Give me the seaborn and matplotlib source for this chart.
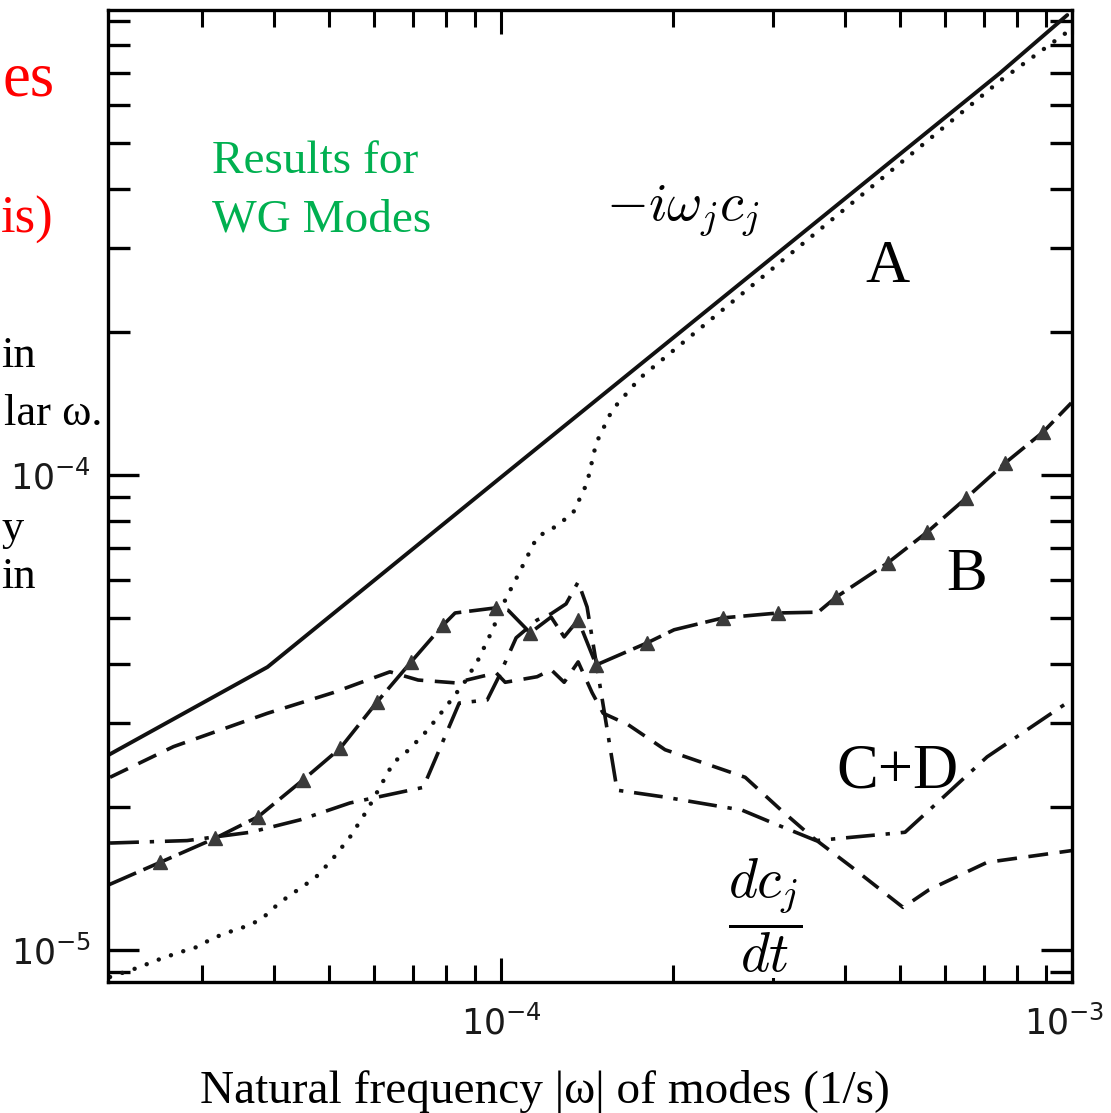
import numpy as np
import pandas as pd
import matplotlib
matplotlib.use("Agg")
import matplotlib.pyplot as plt
import seaborn as sns
from matplotlib.ticker import LogLocator, FuncFormatter, LogFormatterMathtext, NullFormatter

# ---------------- data ----------------
# A : -i w_j c_j  (solid)
A_x = [2.05e-5, 3.90e-5, 9.97e-5, 7.48e-4, 9.81e-4]
A_y = [2.57e-5, 3.94e-5, 9.85e-5, 7.00e-4, 9.27e-4]

# dotted curve
dot_x = [2.067e-5, 2.31e-5, 2.50e-5, 2.71e-5, 2.94e-5, 3.13e-5, 3.40e-5, 3.64e-5,
         3.83e-5, 4.10e-5, 4.45e-5, 4.73e-5, 5.06e-5, 5.44e-5, 5.83e-5, 6.48e-5,
         6.90e-5, 7.43e-5, 8.01e-5, 8.62e-5, 9.12e-5, 9.61e-5, 1.017e-4, 1.076e-4,
         1.157e-4, 1.244e-4, 1.337e-4, 1.415e-4, 1.468e-4, 1.566e-4, 1.752e-4,
         7.48e-4, 9.81e-4]
dot_y = [8.78e-6, 9.18e-6, 9.53e-6, 9.86e-6, 1.016e-5, 1.06e-5, 1.10e-5, 1.13e-5,
         1.17e-5, 1.26e-5, 1.35e-5, 1.42e-5, 1.55e-5, 1.73e-5, 1.97e-5, 2.48e-5,
         2.64e-5, 2.90e-5, 3.25e-5, 3.65e-5, 4.08e-5, 4.65e-5, 5.45e-5, 6.22e-5,
         7.40e-5, 7.77e-5, 8.31e-5, 9.61e-5, 1.166e-4, 1.369e-4, 1.598e-4,
         6.74e-4, 8.54e-4]

# dc_j/dt (dashed)
dcdt_x = [2.067e-5, 2.67e-5, 3.90e-5, 5.08e-5, 6.39e-5, 7.16e-5, 8.31e-5, 9.81e-5,
          1.017e-4, 1.157e-4, 1.224e-4, 1.290e-4, 1.365e-4, 1.444e-4, 1.510e-4,
          1.670e-4, 1.938e-4, 2.677e-4, 3.095e-4, 3.506e-4, 4.10e-4, 5.06e-4,
          5.62e-4, 7.10e-4, 1.0e-3]
dcdt_y = [2.31e-5, 2.68e-5, 3.15e-5, 3.48e-5, 3.85e-5, 3.70e-5, 3.65e-5, 3.83e-5,
          3.66e-5, 3.76e-5, 3.89e-5, 3.66e-5, 4.04e-5, 3.48e-5, 3.15e-5,
          2.98e-5, 2.64e-5, 2.31e-5, 1.97e-5, 1.73e-5, 1.50e-5, 1.23e-5,
          1.34e-5, 1.53e-5, 1.62e-5]

# C+D (dash-dot)
CD_x = [2.067e-5, 2.82e-5, 3.64e-5, 4.45e-5, 5.44e-5, 7.31e-5, 8.45e-5, 9.46e-5,
        9.89e-5, 1.063e-4, 1.157e-4, 1.224e-4, 1.30e-4, 1.365e-4, 1.415e-4,
        1.522e-4, 1.597e-4, 1.930e-4, 2.644e-4, 2.997e-4, 3.563e-4, 5.10e-4,
        5.88e-4, 7.10e-4, 9.97e-4]
CD_y = [1.68e-5, 1.70e-5, 1.77e-5, 1.88e-5, 2.04e-5, 2.20e-5, 3.31e-5, 3.36e-5,
        3.74e-5, 4.54e-5, 4.95e-5, 5.10e-5, 5.35e-5, 5.95e-5, 5.27e-5,
        3.09e-5, 2.17e-5, 2.10e-5, 1.97e-5, 1.85e-5, 1.70e-5, 1.77e-5,
        2.07e-5, 2.55e-5, 3.36e-5]

# B (long dash with triangles)
B_x = [2.05e-5, 2.53e-5, 3.16e-5, 3.76e-5, 4.50e-5, 5.23e-5, 6.07e-5, 6.96e-5,
       7.92e-5, 8.31e-5, 9.81e-5, 1.029e-4, 1.125e-4, 1.224e-4, 1.290e-4,
       1.365e-4, 1.468e-4, 1.803e-4, 2.010e-4, 2.449e-4, 3.058e-4, 3.592e-4,
       3.864e-4, 4.76e-4, 5.58e-4, 6.53e-4, 7.64e-4, 8.90e-4, 9.97e-4]
B_y = [1.37e-5, 1.53e-5, 1.72e-5, 1.91e-5, 2.28e-5, 2.66e-5, 3.33e-5, 4.04e-5,
       4.83e-5, 5.12e-5, 5.25e-5, 5.19e-5, 4.65e-5, 5.02e-5, 4.56e-5,
       4.95e-5, 3.98e-5, 4.43e-5, 4.72e-5, 5.00e-5, 5.12e-5, 5.14e-5,
       5.53e-5, 6.53e-5, 7.58e-5, 8.94e-5, 1.059e-4, 1.230e-4, 1.416e-4]
B_marks = [1, 2, 3, 4, 5, 6, 7, 8, 10, 12, 15, 16, 17, 19, 20, 22, 23, 24, 25, 26, 27]

# ---------------- figure ----------------
sns.set_theme(style="white")
plt.rcParams["font.family"] = ["DejaVu Sans"]
plt.rcParams["mathtext.fontset"] = "dejavusans"

W, H = 1111, 1113
fig = plt.figure(figsize=(W / 100, H / 100), dpi=100)
fig.patch.set_facecolor("white")
L, R, T, Bt = 108, 1072, 10, 982
ax = fig.add_axes([L / W, 1 - Bt / H, (R - L) / W, (Bt - T) / H])
ax.set_facecolor("white")
ax.set_xscale("log")
ax.set_yscale("log")

ink = "#111111"


def draw(x, y, **kw):
    df = pd.DataFrame({"x": x, "y": y})
    sns.lineplot(data=df, x="x", y="y", ax=ax, sort=False, estimator=None,
                 color=ink, **kw)


draw(A_x, A_y, linewidth=2.8, linestyle="-")
draw(dot_x, dot_y, linewidth=3.2, linestyle=(0, (0.01, 2.9)),
     dash_capstyle="round", solid_capstyle="round")
draw(dcdt_x, dcdt_y, linewidth=2.6, linestyle=(0, (5.5, 3.2)))
draw(CD_x, CD_y, linewidth=2.6, linestyle=(0, (8, 3, 1.2, 3)))
draw(B_x, B_y, linewidth=2.6, linestyle=(0, (8.5, 2.2)), marker="^",
     markevery=B_marks, markersize=10, markerfacecolor="#3a3a3a",
     markeredgecolor="#3a3a3a", markeredgewidth=1)

ax.set_xlim(2.05e-5, 1e-3)
ax.set_ylim(8.57e-6, 9.5e-4)

for sp in ax.spines.values():
    sp.set_visible(True)
    sp.set_color("black")
    sp.set_linewidth(2.4)

ax.xaxis.set_major_locator(LogLocator(base=10))
ax.xaxis.set_minor_locator(LogLocator(base=10, subs=np.arange(2, 10)))
ax.yaxis.set_major_locator(LogLocator(base=10))
ax.yaxis.set_minor_locator(LogLocator(base=10, subs=np.arange(2, 10)))


def xfmt(v, pos):
    # the label of the right-most decade is placed separately (it sits
    # left-shifted so that it stays inside the picture)
    if v > 5e-4:
        return ""
    return r"$\mathdefault{10^{%d}}$" % int(round(np.log10(v)))


ax.xaxis.set_major_formatter(FuncFormatter(xfmt))
ax.yaxis.set_major_formatter(LogFormatterMathtext())
ax.xaxis.set_minor_formatter(NullFormatter())
ax.yaxis.set_minor_formatter(NullFormatter())

TL = 25
ax.tick_params(which="both", direction="in", top=True, right=True,
               bottom=True, left=True, color="black", labelcolor="#1a1a1a")
ax.tick_params(axis="y", which="major", length=22, width=2.4, labelsize=TL, pad=12)
ax.tick_params(axis="y", which="minor", length=16, width=2.4)
ax.tick_params(axis="x", which="major", length=17, width=2.2, labelsize=TL, pad=17)
ax.tick_params(axis="x", which="minor", length=12, width=2.2)
ax.set_xlabel("")
ax.set_ylabel("")


def ftext(px, py, s, **kw):
    return fig.text(px / W, 1 - py / H, s, **kw)


# right-most x tick label
ftext(1104, 982 + 17 * 100 / 72, r"$\mathdefault{10^{-3}}$", ha="right", va="top",
      fontsize=TL, color="#1a1a1a")

serif = ["Liberation Serif", "DejaVu Serif"]

# x-axis title
ftext(545, 1103, "Natural frequency |\u03c9| of modes (1/s)", ha="center",
      va="baseline", fontsize=34, family=serif, color="black")

# annotation texts inside plot
ftext(212, 173, "Results for", ha="left", va="baseline", fontsize=34,
      family=serif, color="#00b050")
ftext(212, 232, "WG Modes", ha="left", va="baseline", fontsize=34,
      family=serif, color="#00b050")
ftext(683, 210, r"$-i\omega_j c_j$", ha="center", va="center", fontsize=39,
      math_fontfamily="cm", color="black")
ftext(887, 282, "A", ha="center", va="baseline", fontsize=44, family=serif,
      color="black")
ftext(967, 590, "B", ha="center", va="baseline", fontsize=44, family=serif,
      color="black")
ftext(897, 787, "C+D", ha="center", va="baseline", fontsize=45, family=serif,
      color="black")
ftext(765, 916, r"$\dfrac{dc_j}{dt}$", ha="center", va="center", fontsize=40,
      math_fontfamily="cm", color="black",
      bbox=dict(boxstyle="square,pad=0.05", facecolor="white", edgecolor="none"))

# slide text at the far left (only the tail of each line is on the image)
ftext(55, 95, "es", ha="right", va="baseline", fontsize=45, family=serif, color="red")
ftext(54, 233, "is)", ha="right", va="baseline", fontsize=38, family=serif, color="red")
ftext(36, 367, "in", ha="right", va="baseline", fontsize=32, family=serif, color="black")
ftext(102, 425, "lar \u03c9.", ha="right", va="baseline", fontsize=32, family=serif,
      color="black")
ftext(24, 540, "y", ha="right", va="baseline", fontsize=32, family=serif, color="black")
ftext(36, 588, "in", ha="right", va="baseline", fontsize=32, family=serif, color="black")

fig.savefig("out.png", dpi=100, facecolor="white")
